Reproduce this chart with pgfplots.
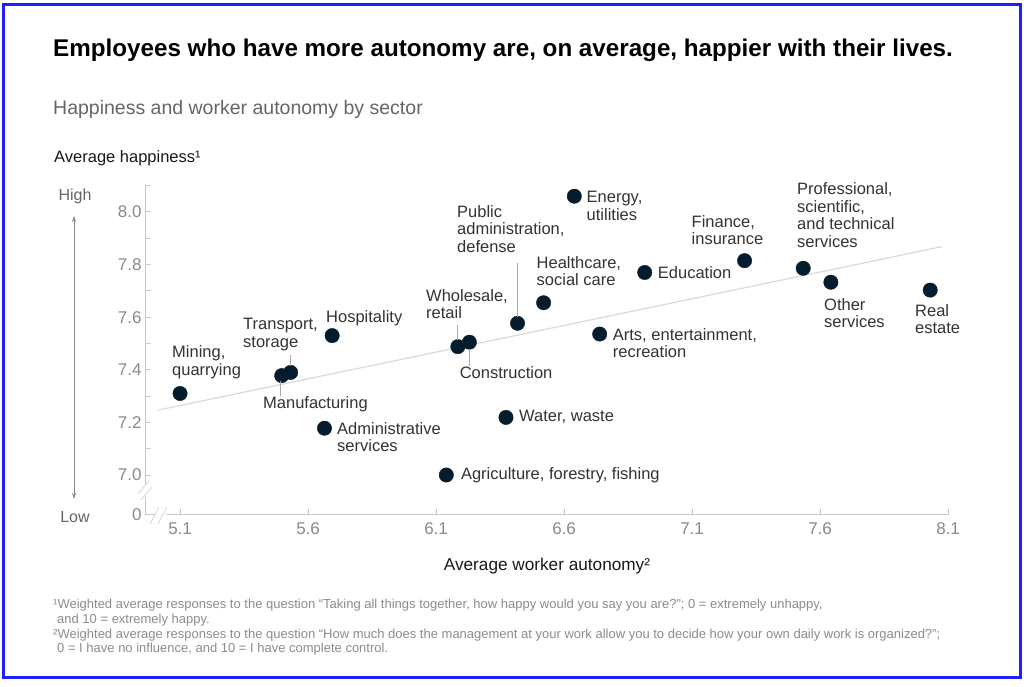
\documentclass[border=0pt]{standalone}
\usepackage{fontspec}
\setmainfont{Liberation Sans}
\usepackage{pgfplots}
\usepackage{pgfplotstable}
\pgfplotsset{compat=1.18}
\usetikzlibrary{arrows.meta}
\definecolor{navy}{HTML}{051C2C}
\definecolor{axgray}{HTML}{C8C8C8}
\definecolor{tickgray}{HTML}{8A8A8A}
\definecolor{labc}{HTML}{333333}
\definecolor{trend}{HTML}{DADADA}
\definecolor{frameblue}{HTML}{1E1EFF}
\definecolor{fngray}{HTML}{8C8C8C}
\definecolor{subgray}{HTML}{666666}
\definecolor{leader}{HTML}{AAAAAA}

% sector, worker autonomy (x), happiness (y)
\pgfplotstableread{
x y
5.100 7.310
5.497 7.378
5.532 7.390
5.694 7.530
5.664 7.178
6.140 7.000
6.185 7.488
6.230 7.505
6.373 7.219
6.418 7.577
6.520 7.655
6.640 8.060
6.739 7.536
6.915 7.770
7.305 7.815
7.534 7.786
7.642 7.733
8.030 7.703
}\datatable

\newcommand{\lab}[3]{\node[anchor=west, align=left, inner sep=0pt, text=labc,
  font=\fontsize{16.5}{17.5}\selectfont] at (#1,#2) {#3};}

\begin{document}
\begin{tikzpicture}
\useasboundingbox (0,0) rectangle (1024pt,687pt);
\fill[white] (0,0) rectangle (1024pt,687pt);
\begin{axis}[
  at={(145pt,172pt)}, anchor=south west,
  scale only axis, width=803.1pt, height=329.3pt,
  xmin=4.963, xmax=8.1, ymin=6.848, ymax=8.1,
  axis x line*=bottom, axis y line*=left,
  axis line style={draw=axgray, line width=1pt, -},
  xtick={5.1,5.6,6.1,6.6,7.1,7.6,8.1},
  xticklabels={5.1,5.6,6.1,6.6,7.1,7.6,8.1},
  ytick={6.848,7.0,7.2,7.4,7.6,7.8,8.0},
  yticklabels={0,7.0,7.2,7.4,7.6,7.8,8.0},
  minor ytick={7.1,7.3,7.5,7.7,7.9,8.1},
  tick align=inside,
  major tick length=6pt, minor tick length=6pt,
  tick style={draw=axgray, line width=1pt},
  minor tick style={draw=axgray, line width=1pt},
  tick label style={font=\fontsize{17}{17}\selectfont, text=tickgray},
  xticklabel style={yshift=-4pt},
  clip=false,
]
\addplot[trend, line width=1.2pt] coordinates {(5.015,7.247) (8.075,7.868)};
\addplot[only marks, mark=*, mark size=7.2pt, mark options={fill=navy, draw=navy}]
  table[x=x, y=y] {\datatable};
\end{axis}

\begin{scope}[x=1pt, y=-1pt, shift={(0pt,687pt)}]
  % frame
  \draw[frameblue, line width=3pt] (3,5) rectangle (1020,678);
  % title and subtitle
  \node[anchor=base west, inner sep=0pt, font=\fontsize{24.2}{28}\selectfont\bfseries]
    at (53,57) {Employees who have more autonomy are, on average, happier with their lives.};
  \node[anchor=base west, inner sep=0pt, text=subgray, font=\fontsize{19.5}{22}\selectfont]
    at (53,115) {Happiness and worker autonomy by sector};
  \node[anchor=base west, inner sep=0pt, text=black!90, font=\fontsize{16.5}{18}\selectfont]
    at (54,163) {Average happiness¹};
  \node[anchor=base, inner sep=0pt, text=black!90, font=\fontsize{17.2}{18}\selectfont]
    at (547,571) {Average worker autonomy²};
  % High / Low
  \draw[tickgray, line width=0.9pt, {Stealth[length=6pt,width=4pt]}-{Stealth[length=6pt,width=4pt]}]
    (74,216) -- (74,499);
  \node[text=subgray, inner sep=0pt, font=\fontsize{16}{16}\selectfont] at (75,196) {High};
  \node[text=subgray, inner sep=0pt, font=\fontsize{16}{16}\selectfont] at (75,517) {Low};
  % axis breaks
  \fill[white] (140,484) rectangle (150,497);
  \draw[axgray!70, line width=0.9pt] (138,494) -- (149,481);
  \draw[axgray!70, line width=0.9pt] (141,500) -- (152,487);
  \fill[white] (155,510) rectangle (166,520);
  \draw[axgray!70, line width=0.9pt] (150,524) -- (159,507);
  \draw[axgray!70, line width=0.9pt] (158,524) -- (167,507);
  % leader lines
  \draw[leader, line width=0.8pt] (290.7,355) -- (290.7,366);
  \draw[leader, line width=0.8pt] (280.7,381) -- (280.7,396);
  \draw[leader, line width=0.8pt] (517.3,263) -- (517.3,317);
  \draw[leader, line width=0.8pt] (457.7,325) -- (457.7,340);
  \draw[leader, line width=0.8pt] (469.2,349) -- (469.2,366);
  % data labels
  \lab{172}{362}{Mining,\\quarrying}
  \lab{243}{334.3}{Transport,\\storage}
  \lab{326}{318}{Hospitality}
  \lab{263}{404}{Manufacturing}
  \lab{337}{437}{Administrative\\services}
  \lab{586.5}{205.8}{Energy,\\utilities}
  \lab{457}{229}{Public\\administration,\\defense}
  \lab{536.5}{271.3}{Healthcare,\\social care}
  \lab{426}{304.3}{Wholesale,\\retail}
  \lab{459.6}{372.3}{Construction}
  \lab{612.7}{343}{Arts, entertainment,\\recreation}
  \lab{657.7}{272.3}{Education}
  \lab{691.5}{230}{Finance,\\insurance}
  \lab{797}{215.3}{Professional,\\scientific,\\and technical\\services}
  \lab{824}{313}{Other\\services}
  \lab{915}{319}{Real\\estate}
  \lab{519}{417.3}{Water, waste}
  \lab{460.8}{475}{Agriculture, forestry, fishing}
  % footnotes
  \begin{scope}[every node/.style={anchor=base west, inner sep=0pt, text=fngray,
      font=\fontsize{13}{14}\selectfont}]
    \node at (53,609) {¹Weighted average responses to the question “Taking all things together, how happy would you say you are?”; 0 = extremely unhappy,};
    \node at (57,624) {and 10 = extremely happy.};
    \node at (53,639) {²Weighted average responses to the question “How much does the management at your work allow you to decide how your own daily work is organized?”;};
    \node at (57,653) {0 = I have no influence, and 10 = I have complete control.};
  \end{scope}
\end{scope}
\end{tikzpicture}
\end{document}
